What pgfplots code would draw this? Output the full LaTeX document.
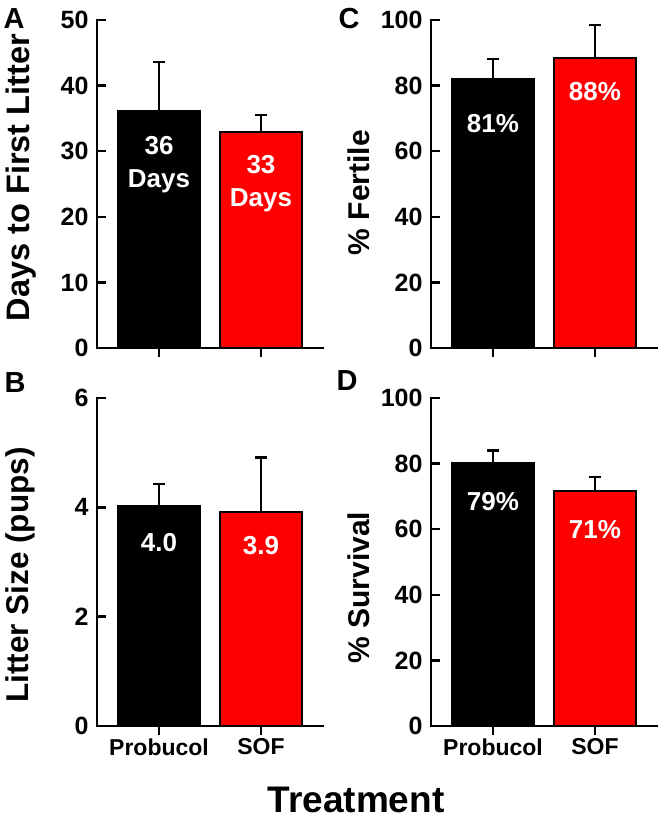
\documentclass[border=0pt]{standalone}
\usepackage{pgfplots}
\pgfplotsset{compat=1.18}
\usepackage{fontspec}
\setmainfont{Liberation Sans}
\definecolor{barred}{RGB}{255,0,0}
\tikzset{lab/.style={text=white, align=center, font=\fontsize{26}{33}\selectfont\bfseries}}
\begin{document}
\begin{tikzpicture}
\pgfplotsset{
  panel/.style={
    scale only axis, width=226pt, height=328pt,
    axis x line*=bottom, axis y line*=left,
    axis line style={line width=2.5pt, black, line cap=rect},
    xmin=-0.608, xmax=1.608, ymin=0,
    xtick={0,1},
    tick align=inside,
    major tick length=9pt,
    every tick/.style={black, line width=2.5pt},
    major x tick style={yshift=-9pt},
    /pgf/number format/assume math mode=true,
    yticklabel style={font=\fontsize{25}{29}\selectfont\bfseries, xshift=-5pt},
    xticklabel style={font=\fontsize{23}{27}\selectfont\bfseries, yshift=-9pt},
    clip=false,
  },
  ylab/.style n args={3}{every axis y label/.style={at={(axis description cs:#1,#2)}, rotate=90, anchor=center, inner sep=1pt, font=\fontsize{#3}{36}\selectfont\bfseries}},
  blackbar/.style={ybar, bar shift=0pt, bar width=0.81, fill=black, draw=black, line width=2pt,
    error bars/.cd, y dir=plus, y explicit,
    error bar style={line width=2.2pt, black},
    error mark options={rotate=90, mark size=6pt, line width=2.2pt, black}},
  redbar/.style={ybar, bar shift=0pt, bar width=0.81, fill=barred, draw=black, line width=2pt,
    error bars/.cd, y dir=plus, y explicit,
    error bar style={line width=2.2pt, black},
    error mark options={rotate=90, mark size=6pt, line width=2.2pt, black}},
}
% Panel A
\begin{axis}[panel, at={(97pt,-348pt)}, anchor=south west,
  ymax=50, ytick={0,10,20,30,40,50}, xticklabels={},
  ylab={-0.335}{0.52}{32.5}, ylabel={Days to First Litter}]
\addplot[blackbar] coordinates {(0,36.1) +- (0,7.5)};
\addplot[redbar] coordinates {(1,32.9) +- (0,2.6)};
\node[lab] at (axis cs:0,28.0) {36\\Days};
\node[lab] at (axis cs:1,25.1) {33\\Days};
\end{axis}
% Panel C
\begin{axis}[panel, at={(431pt,-348pt)}, anchor=south west,
  ymax=100, ytick={0,20,40,60,80,100}, xticklabels={},
  ylab={-0.320}{0.474}{30}, ylabel={\% Fertile}]
\addplot[blackbar] coordinates {(0,81.9) +- (0,6.2)};
\addplot[redbar] coordinates {(1,88.3) +- (0,10.2)};
\node[lab] at (axis cs:0,68.3) {81\%};
\node[lab] at (axis cs:1,78.2) {88\%};
\end{axis}
% Panel B
\begin{axis}[panel, at={(97pt,-726pt)}, anchor=south west,
  ymax=6, ytick={0,2,4,6}, xticklabels={Probucol,SOF},
  ylab={-0.341}{0.46}{31.5}, ylabel={Litter Size (pups)}]
\addplot[blackbar] coordinates {(0,4.02) +- (0,0.40)};
\addplot[redbar] coordinates {(1,3.92) +- (0,0.99)};
\node[lab] at (axis cs:0,3.35) {4.0};
\node[lab] at (axis cs:1,3.30) {3.9};
\end{axis}
% Panel D
\begin{axis}[panel, at={(431pt,-726pt)}, anchor=south west,
  ymax=100, ytick={0,20,40,60,80,100}, xticklabels={Probucol,SOF},
  ylab={-0.318}{0.422}{30}, ylabel={\% Survival}]
\addplot[blackbar] coordinates {(0,80.2) +- (0,3.8)};
\addplot[redbar] coordinates {(1,71.6) +- (0,4.2)};
\node[lab] at (axis cs:0,68.4) {79\%};
\node[lab] at (axis cs:1,59.9) {71\%};
\end{axis}
% panel letters and common label
\node[font=\fontsize{29}{32}\selectfont\bfseries, inner sep=1pt] at (14pt,-19pt) {A};
\node[font=\fontsize{29}{32}\selectfont\bfseries, inner sep=1pt] at (349pt,-19pt) {C};
\node[font=\fontsize{29}{32}\selectfont\bfseries, inner sep=1pt] at (15pt,-383pt) {B};
\node[font=\fontsize{29}{32}\selectfont\bfseries, inner sep=1pt] at (347pt,-381pt) {D};
\node[font=\fontsize{37}{40}\selectfont\bfseries, anchor=base, inner sep=0pt] at (356pt,-812pt) {Treatment};
\pgfresetboundingbox
\useasboundingbox (0,0) rectangle (664pt,-819pt);
\end{tikzpicture}
\end{document}
